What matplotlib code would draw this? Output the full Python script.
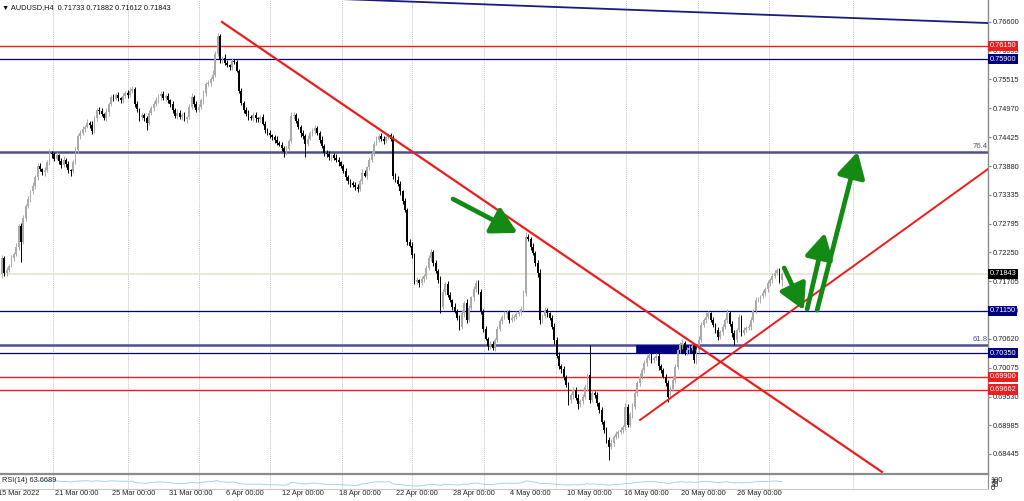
import numpy as np
import matplotlib
matplotlib.use("Agg")
import matplotlib.pyplot as plt
from matplotlib.patches import Rectangle
import matplotlib.transforms as mtransforms

plt.rcParams['font.family'] = ['Liberation Sans', 'DejaVu Sans']

# AUDUSD H4, closes in pips (x 0.0001), open = previous close
first_open = 7185
closes = [
    7215, 7186, 7192, 7200, 7214, 7222, 7236, 7275, 7245, 7290,
    7312, 7326, 7340, 7350, 7368, 7388, 7382, 7376, 7380, 7395,
    7412, 7410, 7402, 7408, 7398, 7390, 7400, 7392, 7380, 7378,
    7395, 7418, 7445, 7450, 7458, 7462, 7470, 7466, 7455, 7478,
    7494, 7492, 7486, 7478, 7490, 7505, 7518, 7515, 7522, 7516,
    7512, 7520, 7526, 7522, 7530, 7533, 7505, 7495, 7480, 7484,
    7478, 7470, 7488, 7498, 7505, 7512, 7520, 7524, 7516, 7520,
    7512, 7506, 7494, 7482, 7488, 7480, 7484, 7476, 7480, 7500,
    7518, 7505, 7494, 7500, 7513, 7525, 7542, 7545, 7552, 7560,
    7600, 7633, 7588, 7592, 7583, 7578, 7575, 7586, 7584, 7568,
    7530, 7508, 7494, 7486, 7480, 7479, 7485, 7478, 7476, 7480,
    7468, 7456, 7450, 7446, 7442, 7438, 7432, 7428, 7422, 7414,
    7420, 7435, 7482, 7484, 7474, 7462, 7450, 7445, 7430, 7440,
    7450, 7455, 7460, 7450, 7437, 7425, 7413, 7410, 7405, 7408,
    7404, 7400, 7395, 7388, 7378, 7367, 7360, 7356, 7352, 7348,
    7345, 7360, 7375, 7370, 7386, 7400, 7413, 7430, 7438, 7444,
    7440, 7436, 7442, 7446, 7440, 7370, 7362, 7355, 7340, 7322,
    7305, 7245, 7238, 7220, 7170, 7172, 7167, 7175, 7180, 7195,
    7215, 7225, 7205, 7190, 7172, 7122, 7150, 7165, 7145, 7135,
    7122, 7115, 7102, 7085, 7110, 7130, 7097, 7120, 7140, 7155,
    7168, 7150, 7115, 7080, 7062, 7048, 7052, 7045, 7060, 7080,
    7095, 7103, 7108, 7112, 7097, 7102, 7104, 7108, 7112, 7118,
    7148, 7255, 7250, 7236, 7224, 7205, 7186, 7097, 7105, 7116,
    7110, 7102, 7085, 7060, 7030, 7010, 7005, 6990, 6975, 6946,
    6955, 6965, 6950, 6938, 6945, 6952, 6970, 6994, 6946, 6960,
    6956, 6940, 6928, 6905, 6890, 6871, 6858, 6866, 6877, 6882,
    6886, 6890, 6896, 6933, 6900, 6920, 6934, 6960, 6978, 6990,
    7003, 7016, 7025, 7032, 7022, 7026, 7030, 7010, 7003, 6990,
    6978, 6952, 6968, 6984, 7009, 7040, 7050, 7054, 7035, 7041,
    7044, 7048, 7022, 7040, 7060, 7088, 7098, 7104, 7110, 7097,
    7088, 7079, 7065, 7075, 7084, 7097, 7111, 7090, 7073, 7060,
    7079, 7103, 7073, 7079, 7082, 7085, 7097, 7115, 7135, 7136,
    7142, 7148, 7155, 7167, 7172, 7180, 7186, 7192, 7173, 7184,
]
# upper / lower wick lengths in pips
hi_wick = [
    6, 4, 5, 3, 6, 4, 7, 3, 5, 6, 4, 5, 3, 7, 4, 6, 5, 3, 6, 4, 8, 5, 4, 6, 3, 5, 7, 4, 5, 3,
    5, 6, 4, 7, 5, 3, 6, 4, 8, 5, 4, 6, 5, 3, 7, 4, 5, 6, 4, 5, 3, 6, 4, 5, 7, 6, 4, 5, 3, 6,
    4, 5, 6, 3, 5, 7, 4, 6, 5, 4, 6, 3, 5, 4, 7, 5, 4, 6, 3, 5, 8, 4, 6, 5, 3, 7, 4, 6, 5, 9,
    6, 6, 5, 4, 7, 5, 3, 6, 4, 5, 4, 6, 3, 5, 7, 4, 6, 5, 3, 4, 6, 5, 4, 7, 3, 5, 6, 4, 5, 3,
    5, 4, 8, 6, 4, 5, 3, 7, 4, 6, 5, 4, 6, 3, 5, 7, 4, 5, 6, 3, 4, 6, 5, 3, 4, 6, 5, 4, 3, 5,
    6, 4, 7, 5, 3, 6, 4, 5, 7, 4, 6, 5, 3, 4, 5, 6, 4, 7, 5, 3, 6, 4, 5, 7, 4, 6, 3, 5, 4, 6,
    5, 7, 4, 6, 3, 8, 5, 4, 6, 5, 3, 7, 4, 5, 6, 4, 8, 5, 3, 6, 4, 5, 6, 3, 7, 4, 6, 5, 4, 7,
    5, 3, 6, 4, 5, 7, 3, 6, 4, 5, 6, 9, 5, 4, 6, 3, 5, 7, 4, 6, 5, 3, 4, 6, 5, 7, 4, 5, 3, 6,
    4, 6, 5, 7, 4, 5, 6, 3, 56, 5, 4, 6, 3, 5, 4, 6, 5, 7, 4, 5, 3, 6, 4, 8, 5, 4, 6, 3, 5, 7,
    4, 5, 6, 3, 7, 4, 5, 6, 4, 3, 5, 6, 4, 7, 5, 3, 6, 8, 4, 5, 6, 4, 5, 3, 7, 6, 4, 8, 5, 3,
    6, 4, 5, 3, 6, 5, 7, 4, 5, 6, 4, 5, 3, 6, 4, 5, 7, 4, 6, 5, 3, 6, 4, 5, 4, 6, 5, 4, 3, 4,
]
lo_wick = [
    8, 5, 6, 4, 3, 5, 4, 6, 38, 4, 5, 3, 6, 4, 5, 7, 3, 5, 6, 4, 5, 6, 4, 3, 7, 5, 4, 6, 5, 8,
    4, 3, 5, 6, 4, 5, 3, 6, 7, 4, 5, 6, 4, 3, 5, 7, 4, 5, 3, 6, 4, 5, 3, 6, 4, 5, 6, 4, 7, 5,
    4, 14, 5, 3, 6, 4, 5, 7, 3, 5, 4, 6, 5, 3, 6, 4, 5, 3, 7, 4, 5, 6, 3, 4, 5, 7, 4, 3, 5, 4,
    3, 4, 6, 5, 4, 3, 6, 5, 4, 3, 5, 4, 6, 3, 5, 4, 6, 7, 4, 5, 3, 6, 4, 5, 4, 7, 5, 3, 6, 8,
    5, 4, 3, 6, 5, 4, 7, 5, 25, 4, 3, 5, 6, 4, 5, 3, 6, 4, 5, 7, 4, 5, 6, 4, 3, 6, 5, 7, 4, 5,
    6, 4, 5, 3, 6, 5, 4, 6, 3, 5, 4, 6, 5, 3, 4, 6, 5, 4, 7, 5, 4, 6, 3, 5, 4, 5, 7, 4, 6, 5,
    3, 6, 5, 4, 5, 12, 4, 6, 5, 3, 6, 4, 5, 7, 4, 6, 5, 3, 4, 6, 5, 4, 6, 5, 3, 7, 5, 4, 6, 5,
    4, 5, 3, 6, 5, 4, 7, 5, 3, 6, 4, 5, 3, 6, 4, 5, 7, 8, 5, 4, 6, 5, 4, 7, 5, 6, 8, 5, 4, 9,
    5, 6, 4, 8, 5, 6, 4, 7, 5, 4, 6, 5, 7, 4, 6, 5, 25, 4, 6, 5, 7, 4, 5, 6, 4, 5, 7, 4, 6, 5,
    4, 6, 5, 3, 6, 5, 4, 7, 5, 3, 6, 10, 4, 5, 6, 4, 5, 7, 4, 3, 6, 4, 5, 7, 4, 5, 4, 6, 5, 4,
    3, 6, 5, 4, 6, 3, 5, 4, 7, 9, 5, 4, 6, 3, 5, 4, 6, 3, 5, 4, 6, 3, 5, 4, 6, 5, 3, 4, 5, 12,
]

date_labels = ["15 Mar 2022", "21 Mar 00:00", "25 Mar 00:00", "31 Mar 00:00", "6 Apr 00:00",
               "12 Apr 00:00", "18 Apr 00:00", "22 Apr 00:00", "28 Apr 00:00", "4 May 00:00",
               "10 May 00:00", "16 May 00:00", "20 May 00:00", "26 May 00:00"]
grid_bars = [21.5, 53.2, 83.1, 113.1, 143.5, 173, 203.4, 233.8, 263.3, 293.7, 323.6, 359.1]

price_ticks = [0.76600, 0.76055, 0.75515, 0.74970, 0.74425, 0.73880, 0.73335, 0.72795,
               0.72250, 0.71705, 0.71160, 0.70620, 0.70075, 0.69530, 0.68985, 0.68445]
red_levels = [0.76150, 0.69900, 0.69662]
navy_levels = [0.75900, 0.71150, 0.70350]
fib_levels = [0.74146, 0.70503]
fib_names = ["76.4", "61.8"]
last_price = 0.71843

# trend lines (bar, price)
down_line = ([92.8, 371.3], [0.76600, 0.68105])
up_line = ([269.2, 416.0], [0.69087, 0.73825])
top_line = ([142.6, 416.0], [0.77034, 0.76580])
zone = (267.5, 292.8, 0.70350, 0.70503)

# arrows: tail (bar, price) -> head (bar, price)
arrows = [((190.3, 0.73258), (217.5, 0.72620)),
          ((330.0, 0.71956), (338.3, 0.71160)),
          ((339.7, 0.71180), (347.2, 0.72620)),
          ((343.9, 0.71160), (361.0, 0.74150))]

close = np.array(closes) / 10000.0
opn = np.r_[first_open / 10000.0, close[:-1]]
high = np.maximum(opn, close) + np.array(hi_wick) / 10000.0
low = np.minimum(opn, close) - np.array(lo_wick) / 10000.0
x = np.arange(len(close))

# RSI(14), Wilder
d = np.diff(close)
up = np.where(d > 0, d, 0.0)
dn = np.where(d < 0, -d, 0.0)
au, ad = up[:14].mean(), dn[:14].mean()
rsi = [np.nan] * 15
for k in range(14, len(d)):
    au = (au * 13 + up[k]) / 14
    ad = (ad * 13 + dn[k]) / 14
    rsi.append(100 - 100 / (1 + au / ad) if ad > 0 else 100)
rsi = np.array(rsi)

W, H = 1024, 501
fig = plt.figure(figsize=(W / 100, H / 100), dpi=100)
ax = fig.add_axes([0, (H - 474) / H, 988 / W, 474 / H])
ax2 = fig.add_axes([0, (H - 489) / H, 988 / W, 15 / H], sharex=ax)

navy = '#00007f'
red = '#ee1c1c'
green = '#138a13'
fibc = '#4f4f96'
bull_c = '#aaaaaa'
fs = 5.3

ax.set_xlim(-0.84, 416.0)
ax.set_ylim(0.68067, 0.77015)

for g in grid_bars:
    ax.axvline(g, color='#c4c4c4', lw=0.7, ls=(0, (1, 1)), zorder=0)
    ax2.axvline(g, color='#c4c4c4', lw=0.7, ls=(0, (1, 1)), zorder=0)

ax.axhline(last_price, color='#eee0d2', lw=1.2, zorder=1)
for p in red_levels:
    ax.axhline(p, color=red, lw=1.0, zorder=2)
for p in navy_levels:
    ax.axhline(p, color=navy, lw=0.9, zorder=2)
for p, nm in zip(fib_levels, fib_names):
    ax.axhline(p, color=fibc, lw=1.8, zorder=2)
    ax.text(415.7, p + 0.0003, nm, color=fibc, fontsize=fs + 0.3, ha='right', va='bottom')

ax.add_patch(Rectangle((zone[0], zone[2]), zone[1] - zone[0], zone[3] - zone[2],
                       fc=navy, ec=navy, lw=0.5, zorder=2))

# candles
bull = close >= opn
body = np.maximum(np.abs(close - opn), 0.00004)
bot = np.minimum(close, opn)
ax.vlines(x[bull], low[bull], high[bull], color=bull_c, lw=0.7, zorder=3)
ax.vlines(x[~bull], low[~bull], high[~bull], color='black', lw=0.7, zorder=3)
ax.bar(x[bull], body[bull], bottom=bot[bull], width=0.75, color=bull_c, lw=0, zorder=3)
ax.bar(x[~bull], body[~bull], bottom=bot[~bull], width=0.75, color='black', lw=0, zorder=3)

ax.plot(*down_line, color=red, lw=1.6, zorder=4)
ax.plot(*up_line, color=red, lw=1.4, zorder=4)
ax.plot(*top_line, color='#1a1a80', lw=1.3, zorder=4, clip_on=True)

for tail, head in arrows:
    ax.annotate('', xy=head, xytext=tail,
                arrowprops=dict(arrowstyle='-|>,head_width=0.5,head_length=0.9',
                                color=green, lw=3.4, mutation_scale=17,
                                shrinkA=0, shrinkB=0), zorder=5)

# axes styling
for s in ['left', 'top', 'bottom']:
    ax.spines[s].set_visible(False)
ax.spines['right'].set_color('#8c8c8c')
ax.spines['right'].set_linewidth(1.0)
ax.yaxis.tick_right()
ax.set_yticks(price_ticks)
ax.set_yticklabels(['%.5f' % p for p in price_ticks])
ax.tick_params(axis='y', labelsize=fs, length=2, pad=1.5, color='#8c8c8c', labelcolor='#222222')
ax.tick_params(axis='x', bottom=False, labelbottom=False)

tr = ax.get_yaxis_transform()
box_labels = [(0.76150, red), (0.75900, navy), (last_price, 'black'),
              (0.71150, navy), (0.70350, navy), (0.69900, red), (0.69662, red)]
for p, c in box_labels:
    ax.text(1.0015, p, '%.5f' % p, transform=tr, fontsize=fs, color='white', va='center',
            ha='left', clip_on=False, zorder=10,
            bbox=dict(boxstyle='square,pad=0.22', fc=c, ec='none'))

ax.text(0.002, 0.992, '\u25bc AUDUSD,H4  0.71733 0.71882 0.71612 0.71843', transform=ax.transAxes,
        fontsize=fs, va='top', ha='left', color='#111111')

# RSI panel
ax2.plot(x, rsi, color='#9ccfdf', lw=0.6)
ax2.set_ylim(-25, 162.5)
ax2.spines['left'].set_visible(False)
ax2.spines['top'].set_color('#8c8c8c')
ax2.spines['top'].set_linewidth(1.6)
ax2.spines['right'].set_color('#8c8c8c')
ax2.spines['bottom'].set_color('#c8c8c8')
ax2.spines['bottom'].set_linewidth(0.8)
ax2.yaxis.tick_right()
ax2.set_yticks([100, 70, 30, 0])
ax2.set_yticklabels(['100', '70', '30', '0'])
ax2.tick_params(axis='y', labelsize=fs, length=0, pad=2, labelcolor='#222222')
ax2.tick_params(axis='x', bottom=False, labelbottom=False)
ax2.text(0.002, 0.55, 'RSI(14) 63.6689', transform=ax2.transAxes, fontsize=fs,
         va='center', ha='left', color='#222222')

dtr = mtransforms.blended_transform_factory(ax2.transData, ax2.transAxes)
for k, lab in enumerate(date_labels):
    ax2.text(24 * k - 1.7, -0.08, lab, transform=dtr, fontsize=fs, va='top', ha='left',
             color='#222222', clip_on=False)

fig.savefig('out.png', dpi=100)
